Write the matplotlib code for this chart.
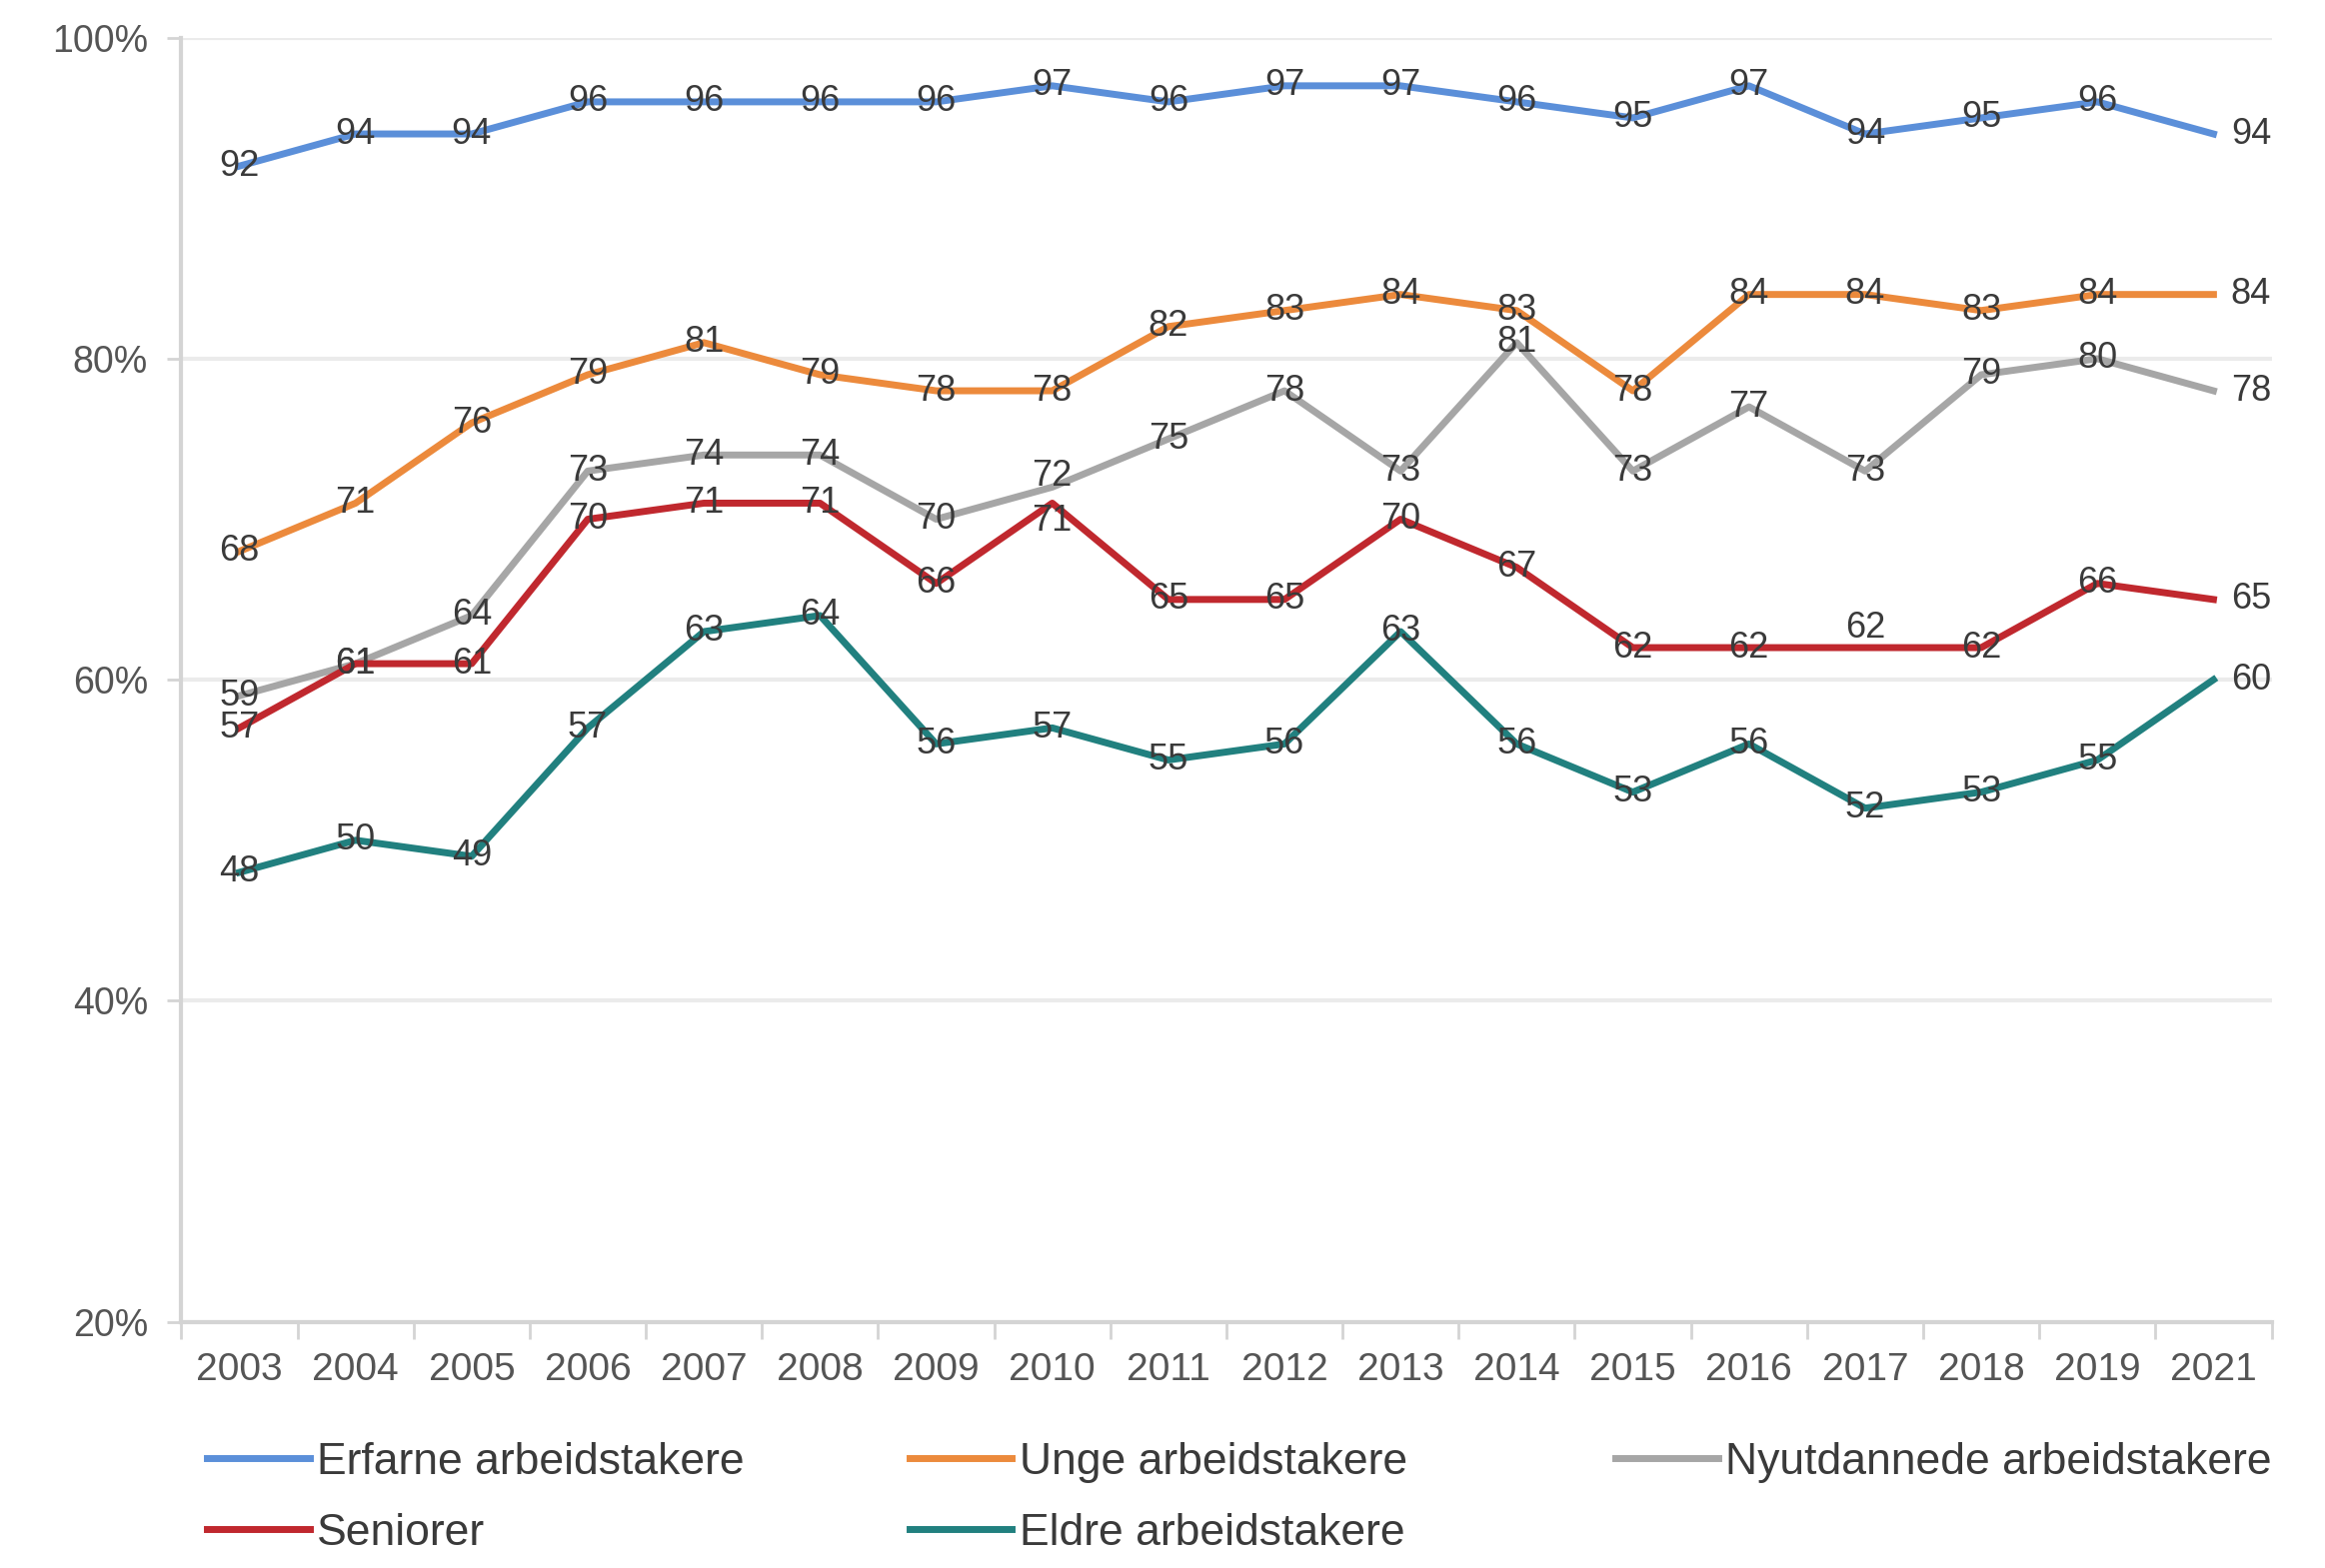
import matplotlib.pyplot as plt
from matplotlib.ticker import FixedLocator

plt.rcParams['font.family'] = ['Liberation Sans', 'DejaVu Sans']

years = ['2003', '2004', '2005', '2006', '2007', '2008', '2009', '2010', '2011',
         '2012', '2013', '2014', '2015', '2016', '2017', '2018', '2019', '2021']

erfarne = [92, 94, 94, 96, 96, 96, 96, 97, 96, 97, 97, 96, 95, 97, 94, 95, 96, 94]
unge = [68, 71, 76, 79, 81, 79, 78, 78, 82, 83, 84, 83, 78, 84, 84, 83, 84, 84]
nyutdannede = [59, 61, 64, 73, 74, 74, 70, 72, 75, 78, 73, 81, 73, 77, 73, 79, 80, 78]
seniorer = [57, 61, 61, 70, 71, 71, 66, 71, 65, 65, 70, 67, 62, 62, 62, 62, 66, 65]
eldre = [48, 50, 49, 57, 63, 64, 56, 57, 55, 56, 63, 56, 53, 56, 52, 53, 55, 60]

series = [
    ('Erfarne arbeidstakere', erfarne, '#5B8FD9'),
    ('Unge arbeidstakere', unge, '#EC8A3C'),
    ('Nyutdannede arbeidstakere', nyutdannede, '#A6A6A6'),
    ('Seniorer', seniorer, '#C0282E'),
    ('Eldre arbeidstakere', eldre, '#21807F'),
]

# small vertical nudges (in % points) for labels that would collide
nudge = {
    ('Nyutdannede arbeidstakere', '2010'): 0.7,
    ('Seniorer', '2010'): -1.1,
    ('Seniorer', '2017'): 1.2,
}

label_color = '#3A3A3A'
axis_color = '#D4D4D4'

fig = plt.figure(figsize=(23.26, 15.69), dpi=100)
ax = fig.add_axes([0.078, 0.157, 0.899, 0.819])

x = list(range(len(years)))
handles = {}
for name, vals, color in series:
    ln, = ax.plot(x, vals, color=color, lw=5, solid_joinstyle='round', zorder=3)
    handles[name] = ln
    for i, v in enumerate(vals):
        dy = nudge.get((name, years[i]), 0)
        if i == len(vals) - 1:
            ax.text(i + 0.15, v + dy, str(v), ha='left', va='center', fontsize=26,
                    color=label_color, zorder=4)
        else:
            ax.text(i, v + dy, str(v), ha='center', va='center', fontsize=26,
                    color=label_color, zorder=4)

ax.set_xlim(-0.5, len(years) - 0.5)
ax.set_ylim(20, 100)
ax.set_yticks([20, 40, 60, 80, 100])
ax.set_yticklabels([f'{t}%' for t in [20, 40, 60, 80, 100]])
ax.set_xticks(x)
ax.set_xticklabels(years)
ax.xaxis.set_minor_locator(FixedLocator([i - 0.5 for i in range(len(years) + 1)]))

ax.grid(axis='y', color='#EBEBEB', lw=3, zorder=0)
for s in ['top', 'right']:
    ax.spines[s].set_visible(False)
for s in ['left', 'bottom']:
    ax.spines[s].set_color(axis_color)
    ax.spines[s].set_linewidth(3)

ax.tick_params(axis='x', which='major', length=0, pad=22, labelsize=28,
               labelcolor='#555555')
ax.tick_params(axis='x', which='minor', length=12, width=2, color=axis_color)
ax.tick_params(axis='y', length=10, width=2, color=axis_color, pad=14,
               labelsize=27, labelcolor='#555555')

# legend: three columns placed side by side
columns = [
    (0.0834, ['Erfarne arbeidstakere', 'Seniorer']),
    (0.3856, ['Unge arbeidstakere', 'Eldre arbeidstakere']),
    (0.6892, ['Nyutdannede arbeidstakere']),
]
for xpos, names in columns:
    fig.legend([handles[n] for n in names], names, loc='upper left',
               bbox_to_anchor=(xpos, 0.089), frameon=False, fontsize=32,
               labelcolor=label_color, handlelength=2.3, handletextpad=0.17,
               labelspacing=0.68, borderpad=0.3, borderaxespad=0)

fig.savefig('out.png', dpi=100)
